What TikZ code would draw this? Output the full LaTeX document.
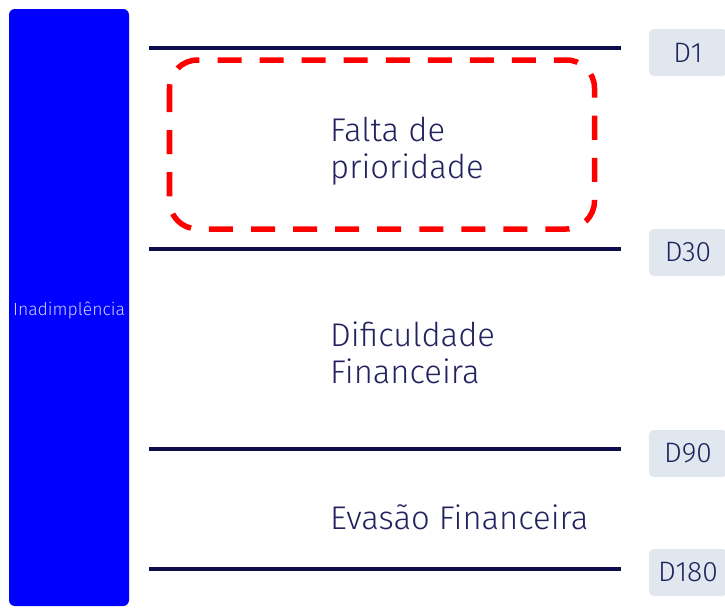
\documentclass[tikz,border=0pt]{standalone}
\usepackage{fontspec}
\setmainfont{Fira Sans Light}
\usetikzlibrary{positioning}
\definecolor{barblue}{HTML}{0000FF}
\definecolor{levelnavy}{HTML}{0E0E4C}
\definecolor{textnavy}{HTML}{22225E}
\definecolor{tagbg}{HTML}{E1E7EF}

\begin{document}
\begin{tikzpicture}[x=0.03cm,y=-0.03cm,
    level/.style={draw=levelnavy,line width=2.6pt},
    tag/.style={fill=tagbg,rounded corners=4pt,text=textnavy,inner sep=0pt,
        font=\fontsize{24}{28}\selectfont,minimum width=2.34cm,minimum height=1.41cm},
    phase/.style={text=textnavy,inner sep=0pt,anchor=west,align=left,
        font=\fontsize{28}{31.6}\selectfont},
    focus/.style={draw=red,line width=4.7pt,dash pattern=on 20.5pt off 15.4pt,
        rounded corners=24pt}]
    \useasboundingbox (0,0) rectangle (725,607);

    % barra lateral
    \fill[barblue,rounded corners=5pt] (9,9) rectangle (129,606);
    \node[text=white!80!barblue,font=\fontsize{15}{18}\selectfont] (inad) at (69,310) {Inadimplência};

    % marcos
    \foreach \y in {48,249,449,569}
        \draw[level] (149,\y) -- (621,\y);
    \node[tag] (d1)   at (688,52.5)  {D1};
    \node[tag] (d30)  at (688,252.5) {D30};
    \node[tag] (d90)  at (688,453.5) {D90};
    \node[tag] (d180) at (688,572.5) {D180};

    % fases
    \node[phase] (falta)  at (330,151)   {Falta de\\prioridade};
    \node[phase] (dific)  at (330,352.5) {Dificuldade\\Financeira};
    \node[phase] (evasao) at (330,517.5) {Evasão Financeira};

    \draw[focus] (169.5,60) rectangle (594.5,229);
\end{tikzpicture}
\end{document}
